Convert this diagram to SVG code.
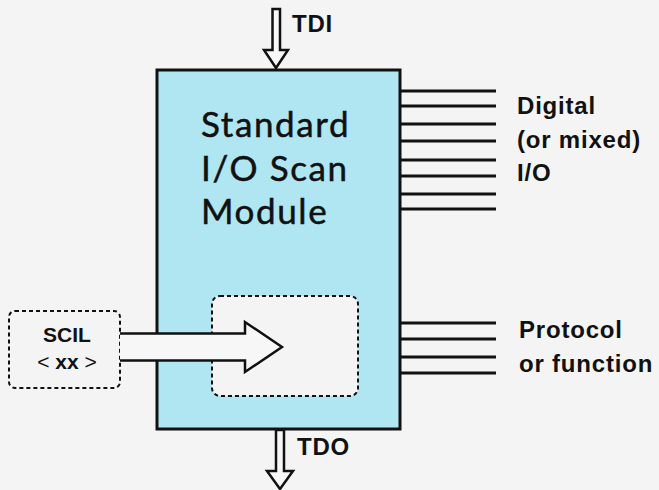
<svg xmlns="http://www.w3.org/2000/svg" width="659" height="490" viewBox="0 0 659 490">
<style>
.lbl{font-family:"Liberation Sans",Arial,sans-serif;font-weight:bold;font-size:24px;fill:#111;letter-spacing:0.8px}
.title{font-family:Lato,"Open Sans",sans-serif;font-size:35px;fill:#111;stroke:#111;stroke-width:0.5;letter-spacing:1.6px}
.small{font-family:"Liberation Sans",Arial,sans-serif;font-size:21px;fill:#111}
.pin{stroke:#111;stroke-width:3;fill:none}
.fat{fill:#f7f7f7;stroke:#111;stroke-width:2.5;stroke-linejoin:miter}
.dash{fill:#f4f4f4;stroke:#111;stroke-width:2;stroke-dasharray:4 3}
</style>
<rect width="659" height="490" fill="#f4f4f4"/>
<g id="module">
<rect x="157" y="70" width="243" height="359" fill="#b0e6f2" stroke="#111" stroke-width="3"/>
<text class="title" x="201" y="137">Standard</text>
<text class="title" x="201" y="181">I/O Scan</text>
<text class="title" x="201" y="224">Module</text>
<rect class="dash" x="212" y="296" width="146" height="100" rx="8"/>
</g>
<g id="scil">
<rect class="dash" x="9" y="311" width="111" height="77" rx="6"/>
<text class="small" x="67" y="342" text-anchor="middle" font-weight="bold">SCIL</text>
<text class="small" x="67" y="369" text-anchor="middle">&lt; <tspan font-weight="bold">xx</tspan> &gt;</text>
</g>
<g id="connectors">
<path class="fat" d="M120 333.5 H245 V322 L282 347 L245 372 V360.5 H120"/>
<path class="fat" d="M272.5 9 H280 V50 H288 L276 68 L264 50 H272.5 Z"/>
<path class="fat" d="M276 430 H284 V471 H293 L280 489 L267 471 H276 Z"/>
<path class="pin" d="M400 91H496M400 106H496M400 124H496M400 141H496M400 160H496M400 176H496M400 194H496M400 209H496"/>
<path class="pin" d="M400 323H496M400 339H496M400 357H496M400 373H496"/>
</g>
<g id="labels">
<text class="lbl" x="292" y="32">TDI</text>
<text class="lbl" x="297" y="455">TDO</text>
<text class="lbl" x="517" y="114">Digital</text>
<text class="lbl" x="517" y="148">(or mixed)</text>
<text class="lbl" x="517" y="181">I/O</text>
<text class="lbl" x="519" y="338">Protocol</text>
<text class="lbl" x="519" y="372">or function</text>
</g>
</svg>
